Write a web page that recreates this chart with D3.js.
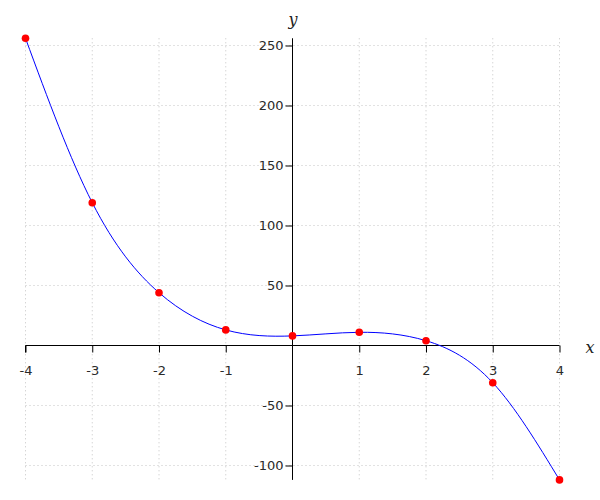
<!DOCTYPE html>
<html>
<head>
<meta charset="utf-8">
<script src="https://cdn.jsdelivr.net/npm/d3@7"></script>
<style>
  html, body { margin: 0; padding: 0; background: #fff; }
  svg { display: block; }
</style>
</head>
<body>
<svg id="chart" width="600" height="500"></svg>
<script>
// Data
const xValues = [-4, -3, -2, -1, 0, 1, 2, 3, 4];
const yValues = [256, 119, 44, 13, 8, 11, 4, -31, -112];
const xTicks = [-4, -3, -2, -1, 1, 2, 3, 4];
const yTicks = [-100, -50, 50, 100, 150, 200, 250];
const gridX = [-4, -3, -2, -1, 0, 1, 2, 3, 4];
const gridY = [-100, -50, 0, 50, 100, 150, 200, 250];

(function () {
const points = xValues.map((x, i) => ({ x, y: yValues[i] }));

const svg = d3.select("#chart");
const x = d3.scaleLinear().domain([-4, 4]).range([25.5, 559.5]);
const y = d3.scaleLinear().domain([-112, 256]).range([479.9, 38.3]);

const x0 = x(0), y0 = y(0);
const yTop = y(256), yBot = y(-112);
const xLeft = x(-4), xRight = x(4);

// Grid
const grid = svg.append("g").attr("stroke", "#c4c4c4").attr("stroke-width", 1)
  .attr("stroke-dasharray", "1,3");
grid.selectAll("line.gx").data(gridX).join("line").attr("class", "gx")
  .attr("x1", d => x(d)).attr("x2", d => x(d))
  .attr("y1", yTop).attr("y2", yBot);
grid.selectAll("line.gy").data(gridY).join("line").attr("class", "gy")
  .attr("y1", d => y(d)).attr("y2", d => y(d))
  .attr("x1", xLeft).attr("x2", xRight);

// X axis
const xAxis = d3.axisBottom(x).tickValues(xTicks).tickSize(7).tickPadding(13)
  .tickFormat(d3.format("d"));
const gx = svg.append("g").attr("transform", `translate(0,${y0})`).call(xAxis);
gx.select(".domain").attr("d", `M${xLeft},0H${xRight}`).attr("stroke", "#000");
gx.append("line").attr("x1", xLeft).attr("x2", xLeft).attr("y1", 0).attr("y2", 7)
  .attr("stroke", "#000");

// Y axis
const yAxis = d3.axisLeft(y).tickValues(yTicks).tickSize(7).tickPadding(2)
  .tickFormat(d3.format("d"));
const gy = svg.append("g").attr("transform", `translate(${x0},0)`).call(yAxis);
gy.select(".domain").attr("d", `M0,${yTop}V${yBot}`).attr("stroke", "#000");

svg.selectAll(".tick line").attr("stroke", "#000");
svg.selectAll(".tick text")
  .attr("fill", "#2a2a2a")
  .style("font-family", "'DejaVu Sans', sans-serif")
  .style("font-size", "13px");
gx.selectAll(".tick text").text(d => String(d));
gy.selectAll(".tick text").text(d => String(d));

// Axis labels
svg.append("text").attr("x", x(4) + 26).attr("y", y0 + 7)
  .style("font-family", "'DejaVu Serif', serif").style("font-style", "italic")
  .style("font-size", "16px").attr("fill", "#222").text("x");
svg.append("text").attr("x", x0 - 4).attr("y", 25)
  .style("font-family", "'DejaVu Serif', serif").style("font-style", "italic")
  .style("font-size", "16px").attr("fill", "#222").text("y");

// Curve
const line = d3.line().x(d => x(d.x)).y(d => y(d.y)).curve(d3.curveNatural);
svg.append("path").datum(points).attr("d", line)
  .attr("fill", "none").attr("stroke", "#0000ff").attr("stroke-width", 1);

// Points
svg.selectAll("circle.pt").data(points).join("circle")
  .attr("class", "pt")
  .attr("cx", d => x(d.x)).attr("cy", d => y(d.y)).attr("r", 3.8)
  .attr("fill", "#ff0000");
})();
</script>
</body>
</html>
